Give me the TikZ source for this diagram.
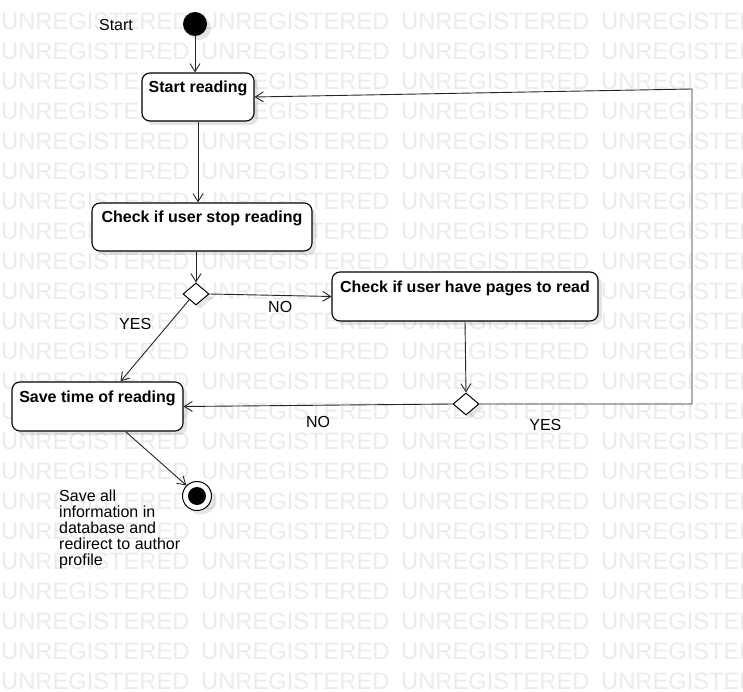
\documentclass[tikz,border=0pt]{standalone}
\usepackage{fontspec}
\setmainfont{Liberation Sans}
\usepackage{tikz}
\usetikzlibrary{positioning,arrows.meta,calc,shapes.geometric,shadows}

\begin{document}
\begin{tikzpicture}[x=1pt,y=-1pt,
    softshadow/.style={drop shadow={shadow xshift=4pt,shadow yshift=-4pt,fill=black,opacity=0.1}},
    actbox/.style={draw,rounded corners=8pt,fill=white,line width=1.1pt,inner sep=0pt,
        font=\fontsize{16}{19}\selectfont\bfseries,text height=12pt,text depth=20pt,softshadow},
    decbox/.style={draw,diamond,fill=white,line width=1pt,inner sep=0pt,
        minimum width=26pt,minimum height=22pt,softshadow},
    flow/.style={-{Straight Barb[length=8pt,width=10pt]},line width=0.9pt,draw=black!85},
    lbl/.style={inner sep=0pt,font=\fontsize{16}{16}\selectfont},
    wmark/.style={inner sep=0pt,anchor=base west,text=black!8,font=\fontsize{23.7}{24}\selectfont}]
    \useasboundingbox (0,0) rectangle (743,692);
    \fill[white] (0,0) rectangle (743,692);
    % watermark
    \foreach \r in {0,...,22}
        \foreach \c in {0,...,3}
            \node[wmark] (wm-\r-\c) at ({1+200*\c},{29.5+30*\r}) {UNREGISTERED};

    \node[circle,fill=black,minimum size=24pt,inner sep=0pt,softshadow] (init) at (195,24) {};
    \node[lbl] (startlbl) at (116,25) {Start};

    \node[actbox,minimum width=112pt,minimum height=48pt] (startrd) at (198,97) {Start reading};
    \node[actbox,minimum width=220pt,minimum height=48pt] (chkstop) at (202,227) {Check if user stop reading};
    \node[decbox] (dec1) at (196,294) {};
    \node[actbox,minimum width=266pt,minimum height=49pt] (chkpages) at (465,296.5) {Check if user have pages to read};
    \node[decbox] (dec2) at (466,404) {};
    \node[actbox,minimum width=171pt,minimum height=49pt] (savetime) at (97.5,406.5) {Save time of reading};

    \node[circle,draw,fill=white,minimum size=29pt,inner sep=0pt,line width=1pt,softshadow] (final) at (197,496) {};
    \fill (final.center) circle (9pt);
    \node[lbl,align=left,anchor=north west] (savenote) at (59,490) {Save all\\information in\\database and\\redirect to author\\profile};

    \coordinate (loopc) at (692,89);

    \draw[flow] (init) -- (init |- startrd.north);
    \draw[flow] (startrd.south) -- (startrd.south |- chkstop.north);
    \draw[flow] (chkstop.south -| dec1.north) -- (dec1.north);
    \draw[flow] (dec1.east) -- node[lbl,pos=0.58,below=5pt] {NO} (chkpages.west);
    \draw[flow] (dec1.south west) -- node[lbl,pos=0.3,left=17pt] {YES} ($(savetime.north)+(23,0)$);
    \draw[flow] (chkpages.south) -- (dec2.north);
    \draw[flow] (dec2.west) -- node[lbl,pos=0.5,below=11pt] {NO} (savetime.east);
    \draw[flow] (dec2.east) -- node[lbl,pos=0.31,below=15pt] {YES} (loopc |- dec2.east) -- (loopc) -- (startrd.east);
    \draw[flow] ($(savetime.south)+(28,0)$) -- (final.north west);
\end{tikzpicture}
\end{document}
